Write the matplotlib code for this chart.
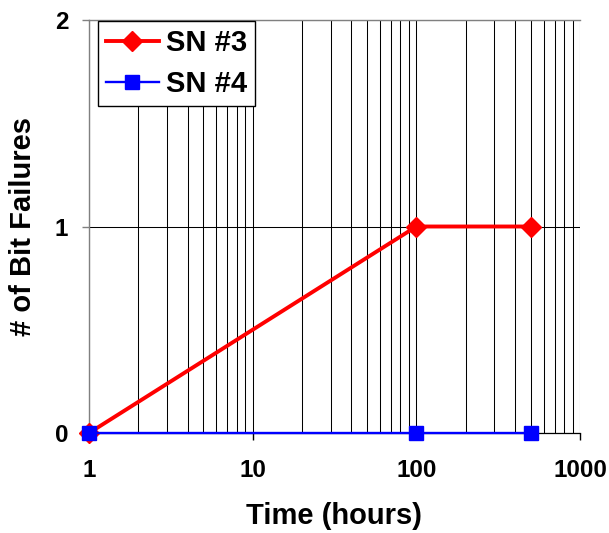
import matplotlib
matplotlib.use("Agg")
import matplotlib.pyplot as plt
from matplotlib.ticker import LogLocator, FixedLocator, NullFormatter

plt.rcParams['font.family'] = ['Liberation Sans', 'DejaVu Sans']
plt.rcParams['font.weight'] = 'bold'

time_sn3 = [1, 100, 500]
fail_sn3 = [0, 1, 1]
time_sn4 = [1, 100, 500]
fail_sn4 = [0, 0, 0]
x_ticks = [1, 10, 100, 1000]
x_labels = ["1", "10", "100", "1000"]
y_ticks = [0, 1, 2]
y_labels = ["0", "1", "2"]

W, H = 609, 533
L, R, T, B = 89, 580, 20, 433
fig = plt.figure(figsize=(W/100, H/100), dpi=100)
ax = fig.add_axes([L/W, 1-B/H, (R-L)/W, (B-T)/H])

ax.plot(time_sn3, fail_sn3, color='#ff0000', lw=2.8, marker='D', ms=10.5,
        mec='#ff0000', label='SN #3', zorder=3, clip_on=False)
ax.plot(time_sn4, fail_sn4, color='#0000ff', lw=1.7, marker='s', ms=10,
        mec='#0000ff', label='SN #4', zorder=4, clip_on=False)

ax.set_xscale('log')
ax.set_xlim(1, 1000)
ax.set_ylim(0, 2)
ax.xaxis.set_major_locator(FixedLocator(x_ticks))
ax.set_xticklabels(x_labels)
ax.xaxis.set_minor_locator(LogLocator(base=10, subs=range(2, 10)))
ax.xaxis.set_minor_formatter(NullFormatter())
ax.set_yticks(y_ticks)
ax.set_yticklabels(y_labels)

ax.grid(True, which='both', axis='x', color='black', lw=0.75)
ax.grid(True, which='major', axis='y', color='black', lw=0.75)
ax.set_axisbelow(True)

for s in ['left', 'top']:
    ax.spines[s].set_color('#808080')
    ax.spines[s].set_linewidth(1.0)
ax.spines['right'].set_visible(False)
ax.spines['bottom'].set_color('black')
ax.spines['bottom'].set_linewidth(0.9)

ax.tick_params(axis='x', which='major', length=5, width=1, direction='out', pad=14, labelsize=17.5)
ax.tick_params(axis='x', which='minor', length=0)
ax.tick_params(axis='y', length=5, width=1, direction='out', color='#808080', pad=10, labelsize=17.5)
for t in ax.get_xticklabels() + ax.get_yticklabels():
    t.set_fontweight('bold')

ax.set_xlabel('Time (hours)', fontsize=21, fontweight='bold', labelpad=14)
ax.set_ylabel('# of Bit Failures', fontsize=21, fontweight='bold', labelpad=13)

leg = ax.legend(loc='upper left', bbox_to_anchor=(9/(R-L), 1-1/(B-T)), borderaxespad=0,
                frameon=True, fancybox=False, edgecolor='black', framealpha=1,
                prop={'size': 21, 'weight': 'bold'},
                handlelength=1.8, borderpad=0.28, labelspacing=0.45, handletextpad=0.25)
leg.get_frame().set_linewidth(1.0)

fig.savefig('out.png', dpi=100)
